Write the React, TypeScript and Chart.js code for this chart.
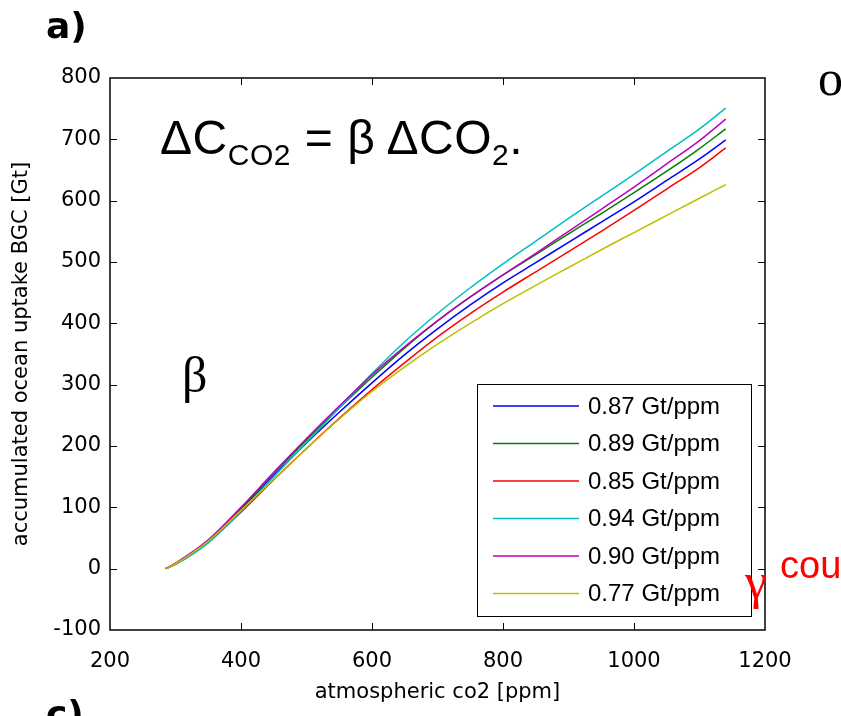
import React, { useEffect, useRef } from "react";
import { Chart, registerables } from "chart.js";

Chart.register(...registerables);

const co2Ppm = [285, 300, 350, 400, 450, 500, 550, 600, 650, 700, 750, 800, 850, 900, 950, 1000, 1050, 1100, 1140];

const blueUptake = [0, 8, 45, 97, 152, 205, 255, 303, 349, 391, 430, 466, 499, 532, 565, 598, 633, 668, 699];
const greenUptake = [0, 8, 46, 99, 155, 210, 262, 312, 360, 404, 443, 479, 512, 546, 579, 613, 648, 685, 717];
const redUptake = [0, 7, 43, 92, 145, 196, 245, 292, 336, 378, 416, 451, 484, 517, 550, 584, 619, 654, 686];
const cyanUptake = [0, 7, 42, 94, 150, 206, 262, 318, 370, 416, 458, 497, 534, 571, 607, 643, 680, 717, 751];
const magentaUptake = [0, 9, 47, 100, 157, 212, 265, 316, 362, 404, 443, 479, 514, 550, 586, 622, 660, 698, 733];
const yellowUptake = [0, 8, 45, 95, 146, 196, 244, 289, 329, 366, 400, 432, 462, 491, 520, 548, 576, 604, 626];

const seriesLabels = ["0.87 Gt/ppm", "0.89 Gt/ppm", "0.85 Gt/ppm", "0.94 Gt/ppm", "0.90 Gt/ppm", "0.77 Gt/ppm"];
const seriesColors = ["#0000ff", "#008000", "#ff0000", "#00bfbf", "#bf00bf", "#bfbf00"];
const seriesValues = [blueUptake, greenUptake, redUptake, cyanUptake, magentaUptake, yellowUptake];

const xTitle = "atmospheric co2 [ppm]";
const yTitle = "accumulated ocean uptake BGC [Gt]";

const SANS = "'Liberation Sans', Arial, Helvetica, sans-serif";
const DEJAVU = "'DejaVu Sans', 'Liberation Sans', sans-serif";
const SERIF = "'Liberation Serif', 'Times New Roman', serif";

const boxPlugin = {
  id: "matlabBox",
  afterDatasetsDraw(chart: any) {
    const { ctx, chartArea, scales } = chart;
    const { left, right, top, bottom } = chartArea;
    ctx.save();
    ctx.strokeStyle = "#000";
    ctx.lineWidth = 1.5;
    ctx.strokeRect(left, top, right - left, bottom - top);
    const tl = 7;
    ctx.lineWidth = 1;
    ctx.beginPath();
    scales.x.ticks.forEach((t: any) => {
      const px = Math.round(scales.x.getPixelForValue(t.value)) + 0.5;
      if (px <= left + 2 || px >= right - 2) return;
      ctx.moveTo(px, bottom);
      ctx.lineTo(px, bottom - tl);
      ctx.moveTo(px, top);
      ctx.lineTo(px, top + tl);
    });
    scales.y.ticks.forEach((t: any) => {
      const py = Math.round(scales.y.getPixelForValue(t.value)) + 0.5;
      if (py <= top + 2 || py >= bottom - 2) return;
      ctx.moveTo(left, py);
      ctx.lineTo(left + tl, py);
      ctx.moveTo(right, py);
      ctx.lineTo(right - tl, py);
    });
    ctx.stroke();

    // legend
    const lx = 477, ly = 384, lw = 274, lh = 232;
    ctx.fillStyle = "#fff";
    ctx.fillRect(lx, ly, lw, lh);
    ctx.strokeStyle = "#000";
    ctx.lineWidth = 1;
    ctx.strokeRect(lx + 0.5, ly + 0.5, lw, lh);
    ctx.font = "24px " + SANS;
    ctx.textBaseline = "middle";
    ctx.textAlign = "left";
    chart.data.datasets.forEach((ds: any, i: number) => {
      const cy = ly + 22 + i * 37.5;
      ctx.strokeStyle = ds.borderColor;
      ctx.lineWidth = 1.5;
      ctx.beginPath();
      ctx.moveTo(493, cy);
      ctx.lineTo(579, cy);
      ctx.stroke();
      ctx.fillStyle = "#000";
      ctx.fillText(ds.label, 588, cy + 1);
    });
    ctx.restore();
  },
};

export default function App() {
  const ref = useRef<HTMLCanvasElement>(null);
  useEffect(() => {
    document.body.style.margin = "0";
    const datasets = seriesValues.map((vals, i) => ({
      label: seriesLabels[i],
      data: vals.map((v, j) => ({ x: co2Ppm[j], y: v })),
      borderColor: seriesColors[i],
      backgroundColor: seriesColors[i],
      borderWidth: 1.5,
      pointRadius: 0,
      cubicInterpolationMode: "monotone",
      fill: false,
      order: seriesValues.length - i,
    }));
    const chart = new Chart(ref.current as HTMLCanvasElement, {
      type: "line",
      data: { datasets },
      plugins: [boxPlugin],
      options: {
        animation: false,
        responsive: false,
        devicePixelRatio: 1,
        layout: { padding: { top: 78, right: 76, left: 0, bottom: 0 } },
        plugins: { legend: { display: false }, tooltip: { enabled: false } },
        scales: {
          x: {
            type: "linear",
            min: 200,
            max: 1200,
            grid: { display: false, drawTicks: false },
            border: { display: false },
            ticks: { stepSize: 200, color: "#000", font: { family: DEJAVU, size: 21 }, padding: 19, maxRotation: 0, callback: (v: any) => String(v) },
            title: { display: true, text: xTitle, color: "#000", font: { family: DEJAVU, size: 21 }, padding: { top: 0, bottom: 11 } },
            afterFit: (s: any) => { s.height = 86; },
          },
          y: {
            min: -100,
            max: 800,
            grid: { display: false, drawTicks: false },
            border: { display: false },
            ticks: { stepSize: 100, color: "#000", font: { family: DEJAVU, size: 21 }, padding: 9, callback: (v: any) => String(v) },
            title: { display: true, text: yTitle, color: "#000", font: { family: DEJAVU, size: 21 }, padding: { top: 9, bottom: 0 } },
            afterFit: (s: any) => { s.width = 110; },
          },
        },
      } as any,
    });
    return () => chart.destroy();
  }, []);

  const abs = (extra: React.CSSProperties): React.CSSProperties => ({ position: "absolute", whiteSpace: "nowrap", lineHeight: 1, ...extra });
  const sub: React.CSSProperties = { fontSize: 30, verticalAlign: "-11px" };

  return (
    <div style={{ position: "absolute", left: 0, top: 0, width: 841, height: 716, overflow: "hidden", background: "#fff" }}>
      <canvas ref={ref} width={841} height={716} style={{ position: "absolute", left: 0, top: 0, width: 841, height: 716 }} />
      <div style={abs({ left: 46, top: 8, fontFamily: DEJAVU, fontWeight: "bold", fontSize: 36 })}>a)</div>
      <div style={abs({ left: 46, top: 696, fontFamily: DEJAVU, fontWeight: "bold", fontSize: 36 })}>c)</div>
      <div style={abs({ left: 160, top: 114, fontFamily: SANS, fontSize: 48, letterSpacing: 0.5 })}>
        ΔC<sub style={sub}>CO2</sub> = β ΔCO<sub style={sub}>2</sub>.
      </div>
      <div style={abs({ left: 182, top: 350, fontFamily: SERIF, fontSize: 50 })}>β</div>
      <div style={abs({ left: 818, top: 53, fontFamily: SERIF, fontSize: 50 })}>o</div>
      <div style={abs({ left: 745, top: 556, fontFamily: SERIF, fontSize: 50, color: "#ff0000" })}>γ</div>
      <div style={abs({ left: 780, top: 546, fontFamily: SANS, fontSize: 38, color: "#ff0000" })}>cou</div>
    </div>
  );
}
